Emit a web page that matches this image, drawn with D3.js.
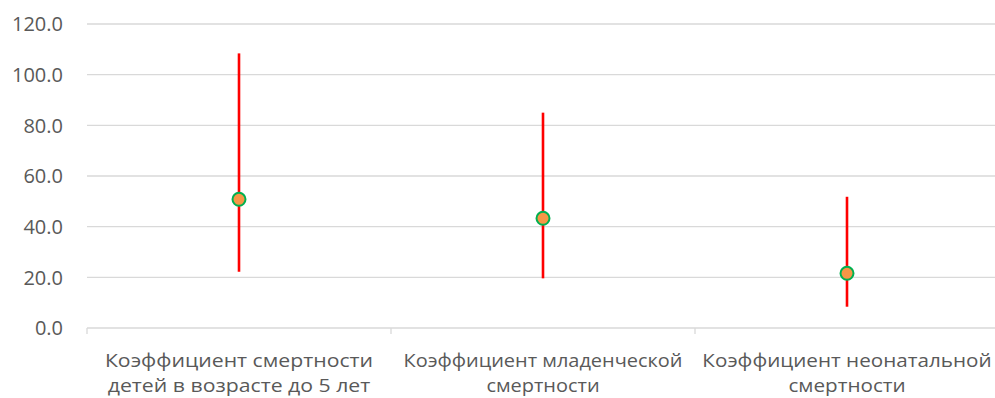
<!DOCTYPE html>
<html><head><meta charset="utf-8">
<script src="https://cdn.jsdelivr.net/npm/d3@7"></script>
<style>body{margin:0;background:#fff}svg{display:block}</style>
</head><body>
<script>
const categories = [
  ["Коэффициент смертности", "детей в возрасте до 5 лет"],
  ["Коэффициент младенческой", "смертности"],
  ["Коэффициент неонатальной", "смертности"]
];
const meanValues = [50.8, 43.3, 21.6];
const lowValues = [22.2, 19.6, 8.4];
const highValues = [108.4, 85.0, 51.8];
const yTicks = [0, 20, 40, 60, 80, 100, 120];
const labelWidths = [268, 279, 289];

(function () {
const W = 995, H = 398;
const svg = d3.select("body").append("svg").attr("width", W).attr("height", H);
const mL = 87, mR = 999, mT = 24, mB = 328;
const x = d3.scaleBand().domain(d3.range(categories.length)).range([mL, mR]);
const y = d3.scaleLinear().domain([0, 120]).range([mB, mT]);

// gridlines
svg.append("g").selectAll("line").data(yTicks.filter(d => d > 0)).join("line")
  .attr("x1", mL).attr("x2", mR).attr("y1", d => y(d)).attr("y2", d => y(d))
  .attr("stroke", "#d9d9d9").attr("stroke-width", 1.3);

// y labels
svg.append("g").selectAll("text").data(yTicks).join("text")
  .attr("x", 63).attr("y", d => y(d)).attr("dy", "0.36em")
  .attr("text-anchor", "end").attr("font-family", "'Open Sans', sans-serif")
  .attr("font-size", 20).attr("fill", "#595959").text(d => d.toFixed(1));

// x axis
const xa = svg.append("g").attr("transform", `translate(0,${mB})`);
xa.append("line").attr("x1", mL).attr("x2", mR).attr("stroke", "#d9d9d9").attr("stroke-width", 1.3);
xa.selectAll("line.tk").data(d3.range(categories.length + 1)).join("line").attr("class", "tk")
  .attr("x1", i => mL + i * x.step()).attr("x2", i => mL + i * x.step())
  .attr("y1", 0).attr("y2", 6).attr("stroke", "#d9d9d9").attr("stroke-width", 1.3);

categories.forEach((lines, i) => {
  const g = svg.append("g");
  const txt = g.append("text").attr("text-anchor", "middle")
    .attr("font-family", "'Open Sans', sans-serif")
    .attr("font-size", 18.8).attr("fill", "#595959");
  const spans = lines.map((t, j) => txt.append("tspan").attr("x", 0).attr("y", j * 26).text(t));
  const w = spans[0].node().getComputedTextLength();
  const sx = labelWidths[i] / w;
  g.attr("transform", `translate(${x(i) + x.bandwidth() / 2},366.5) scale(${sx},1)`);
});

// ranges
svg.append("g").selectAll("line").data(d3.range(categories.length)).join("line")
  .attr("x1", i => x(i) + x.bandwidth() / 2).attr("x2", i => x(i) + x.bandwidth() / 2)
  .attr("y1", i => y(highValues[i])).attr("y2", i => y(lowValues[i]))
  .attr("stroke", "#ff0000").attr("stroke-width", 2.6);

// markers
svg.append("g").selectAll("circle").data(d3.range(categories.length)).join("circle")
  .attr("cx", i => x(i) + x.bandwidth() / 2).attr("cy", i => y(meanValues[i]))
  .attr("r", 6.5).attr("fill", "#f79646").attr("stroke", "#00b050").attr("stroke-width", 2);
})();
</script>
</body></html>
